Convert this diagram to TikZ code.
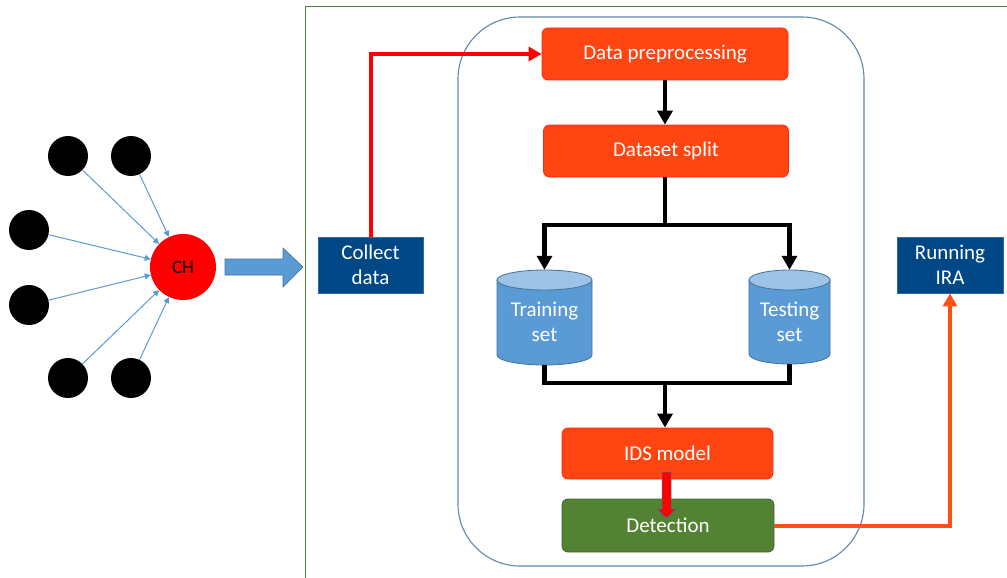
\documentclass[tikz,border=0pt]{standalone}
\usepackage{fontspec}
\setmainfont{Carlito}
\usetikzlibrary{arrows.meta}

\definecolor{procorange}{RGB}{255,69,18}
\definecolor{procedge}{RGB}{255,40,20}
\definecolor{navy}{RGB}{0,71,133}
\definecolor{navyedge}{RGB}{50,105,160}
\definecolor{leafgreen}{RGB}{84,130,53}
\definecolor{leafedge}{RGB}{62,100,40}
\definecolor{skyblue}{RGB}{91,155,213}
\definecolor{skylight}{RGB}{157,195,230}
\definecolor{steel}{RGB}{65,113,156}
\definecolor{panelblue}{RGB}{95,135,175}
\definecolor{flame}{RGB}{255,80,20}

\tikzset{
  labelfont/.style={font=\fontsize{21}{25}\selectfont, align=center},
  procbox/.style={labelfont, draw=procedge, fill=procorange, text=white,
    rounded corners=6pt, line width=0.8pt},
  navybox/.style={labelfont, draw=navyedge, fill=navy, text=white, line width=0.8pt},
  greenbox/.style={labelfont, draw=leafedge, fill=leafgreen, text=white,
    rounded corners=6pt, line width=0.8pt},
  sensor/.style={circle, fill=black, minimum size=40pt, inner sep=0pt},
  feed/.style={draw=skyblue, line width=1pt, -{Triangle[length=6pt,width=6pt]}},
  flowline/.style={draw=black, line width=4.5pt},
  flow/.style={flowline, -{Triangle[length=14pt,width=15pt]}},
  redflow/.style={draw=red, line width=4pt, -{Triangle[length=13pt,width=14pt]}},
  flameflow/.style={draw=flame, line width=4pt, -{Triangle[length=13pt,width=14pt]}},
  dbslot/.style={labelfont, text=white, inner sep=0pt},
  dbbody/.style={fill=skyblue, draw=steel, line width=0.8pt},
  dbtop/.style={fill=skylight, draw=steel, line width=0.8pt},
}

\begin{document}
\begin{tikzpicture}[x=1pt,y=-1pt]
\useasboundingbox (0,0) rectangle (1007,578);

% outer frame (runs off the page to the right and bottom)
\draw[leafgreen, line width=1pt] (305,590) -- (305,7) -- (1020,7);

% rounded panel holding the IDS pipeline
\draw[panelblue, line width=1.1pt, rounded corners=62pt] (458,17) rectangle (864,566);

% sensor nodes and cluster head
\node[circle, fill=red, minimum size=66pt, inner sep=0pt,
      font=\fontsize{19}{22}\selectfont] (ch) at (183,267) {CH};
\node[sensor] (s1) at (68,156) {};
\node[sensor] (s2) at (131,156) {};
\node[sensor] (s3) at (29,230) {};
\node[sensor] (s4) at (29,305) {};
\node[sensor] (s5) at (68,378) {};
\node[sensor] (s6) at (131,378) {};
\foreach \s in {s1,s2,s3,s4,s5,s6}
  \draw[feed] (\s) -- (ch);

% boxes
\node[navybox, minimum width=105pt, minimum height=56pt] (collect) at (370.5,265) {Collect\\data};
\node[navybox, minimum width=106pt, minimum height=56pt] (ira) at (950,265) {Running\\IRA};
\node[procbox, minimum width=246pt, minimum height=52pt] (prep) at (665,54) {Data preprocessing};
\node[procbox, minimum width=245pt, minimum height=52pt] (split) at (666,151) {Dataset split};
\node[procbox, minimum width=211pt, minimum height=51pt] (ids) at (667.5,453.5) {IDS model};
\node[greenbox, minimum width=212pt, minimum height=53pt] (detect) at (668,525.5) {Detection};

% block arrow from the cluster head to data collection
\draw[fill=skyblue, draw=steel, line width=0.6pt]
  (225,259) -- (283,259) -- (283,248) -- (303,267) -- (283,287) -- (283,275) -- (225,275) -- cycle;

% database cylinders
\draw[dbbody] (497,280) -- (497,355) arc[start angle=180, end angle=0, x radius=47.5, y radius=10] -- (592,280) -- cycle;
\draw[dbtop] (544.5,280) ellipse[x radius=47.5, y radius=10];
\node[dbslot, minimum width=95pt, minimum height=95pt] (train) at (544.5,317.5) {};
\node[labelfont, text=white] at (544.5,322) {Training\\set};

\draw[dbbody] (749,280) -- (749,354) arc[start angle=180, end angle=0, x radius=40.5, y radius=10] -- (830,280) -- cycle;
\draw[dbtop] (789.5,280) ellipse[x radius=40.5, y radius=10];
\node[dbslot, minimum width=81pt, minimum height=94pt] (test) at (789.5,317) {};
\node[labelfont, text=white] at (789.5,322) {Testing\\set};

% pipeline connectors
\coordinate (fork) at (665,225);
\coordinate (join) at (665,383);
\draw[flow] (prep.south -| 665,0) -- (split.north -| 665,0);
\draw[flowline] (split.south -| 665,0) -- (fork);
\draw[flow] (fork) -| (train.north);
\draw[flow] (fork) -| (test.north);
\draw[flowline] (train.south) |- (join) -| (test.south);
\draw[flow] (join) -- (ids.north -| join);

\draw[redflow] (collect.north) |- (prep.west);
\draw[flameflow] (detect.east) -| (ira.south);

% small arrow from the model to detection
\draw[fill=red, draw=steel, line width=0.5pt]
  (662,472) -- (671,472) -- (671,509) -- (676,509) -- (666.5,518) -- (657,509) -- (662,509) -- cycle;

\end{tikzpicture}
\end{document}
